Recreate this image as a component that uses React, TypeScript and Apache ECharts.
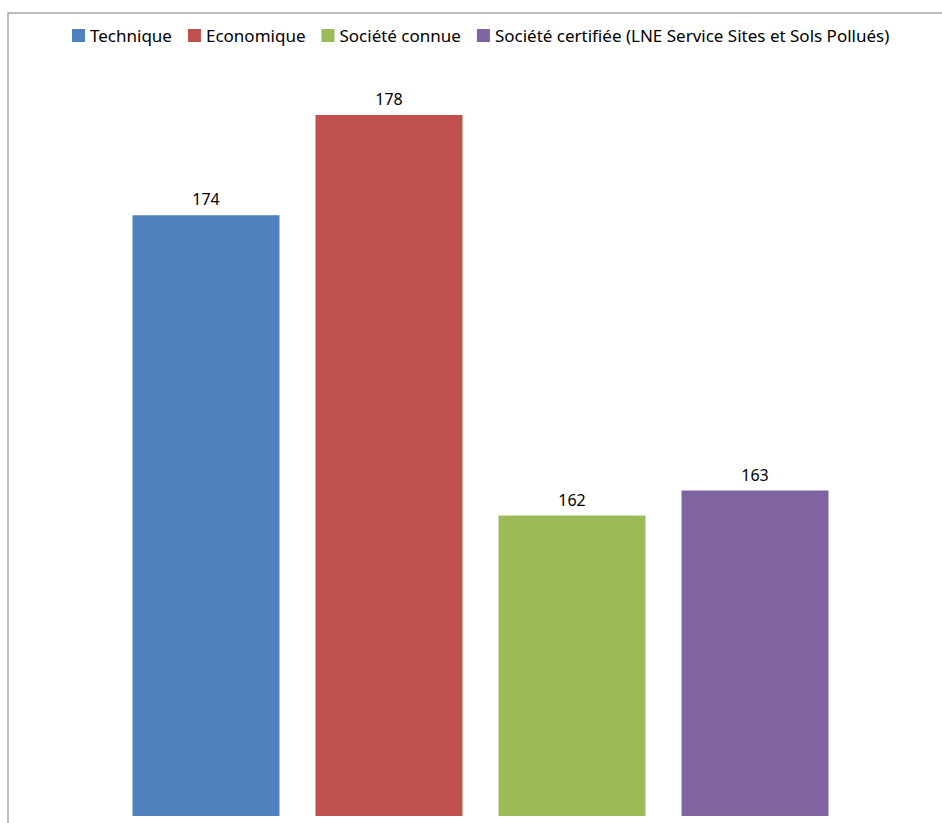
import React, { useEffect, useRef } from "react";
import * as echarts from "echarts";

const seriesNames = [
  "Technique",
  "Economique",
  "Société connue",
  "Société certifiée (LNE Service Sites et Sols Pollués)",
];
const seriesValues = [174, 178, 162, 163];
const seriesColors = ["#4F81BD", "#C0504D", "#9BBB59", "#8064A2"];
const axisMin = 150;
const axisMax = 180;

export default function App() {
  const ref = useRef<HTMLDivElement>(null);
  useEffect(() => {
    if (!ref.current) return;
    const chart = echarts.init(ref.current, undefined, { renderer: "svg" });
    const font = "'Noto Sans', sans-serif";
    chart.setOption({
      animation: false,
      backgroundColor: "#ffffff",
      textStyle: { fontFamily: font },
      graphic: [
        {
          type: "rect",
          z: -10,
          shape: { x: 8, y: 13, width: 1200, height: 1200 },
          style: { fill: "none", stroke: "#a6a6a6", lineWidth: 1.5 },
          silent: true,
        },
      ],
      legend: {
        left: 72,
        top: 26,
        padding: 0,
        itemWidth: 13,
        itemHeight: 13,
        itemGap: 16,
        icon: "rect",
        textStyle: { fontFamily: font, fontSize: 17, color: "#000000", lineHeight: 19 },
        data: seriesNames,
      },
      grid: { left: 30, right: 11, top: 65, bottom: 7, containLabel: false },
      xAxis: {
        type: "category",
        data: [""],
        show: false,
      },
      yAxis: {
        type: "value",
        min: axisMin,
        max: axisMax,
        show: false,
        splitLine: { show: false },
      },
      series: seriesNames.map((name, i) => ({
        name,
        type: "bar",
        data: [seriesValues[i]],
        barWidth: 147,
        barGap: "24.5%",
        itemStyle: { color: seriesColors[i] },
        label: {
          show: true,
          position: "top",
          distance: 8,
          color: "#000000",
          fontSize: 16,
          fontFamily: font,
        },
      })),
    });
    return () => chart.dispose();
  }, []);
  return (
    <div
      ref={ref}
      style={{ position: "absolute", left: 0, top: 0, width: 942, height: 823 }}
    />
  );
}
